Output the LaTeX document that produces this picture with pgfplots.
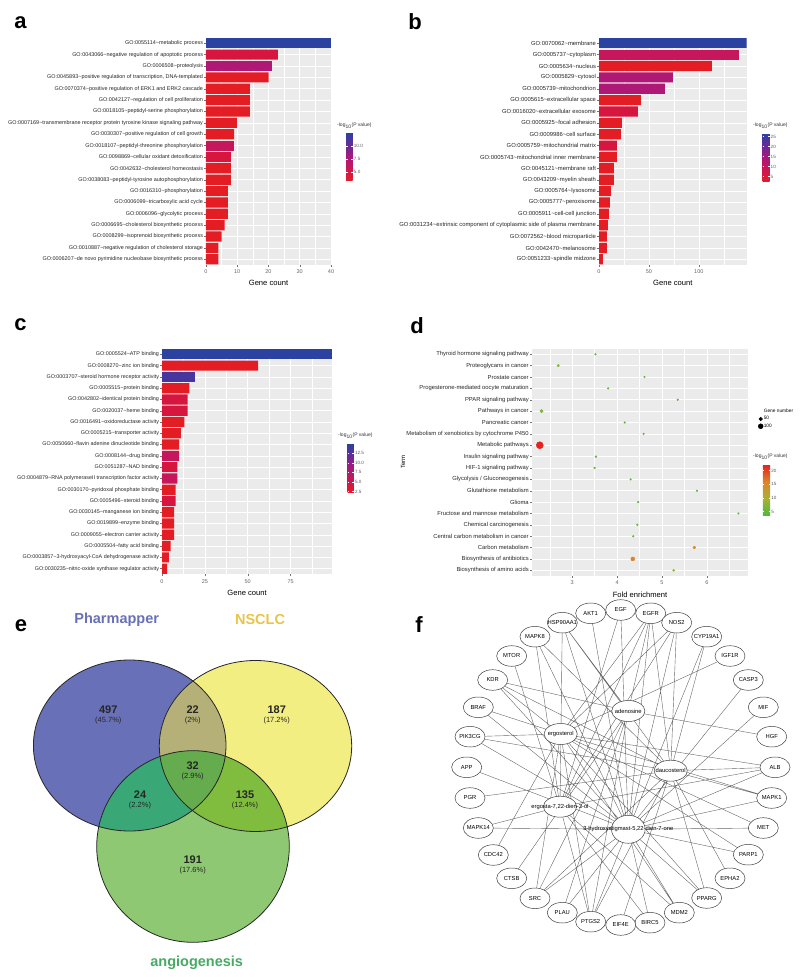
\documentclass[border=0pt]{standalone}
\usepackage{fontspec}
\setmainfont{Liberation Sans}
\usepackage{pgfplots}
\pgfplotsset{compat=1.18}

\definecolor{panelbg}{RGB}{235,235,235}
\definecolor{redbar}{RGB}{228,28,36}
\definecolor{crimbar}{RGB}{214,22,62}
\definecolor{rosebar}{RGB}{198,22,92}
\definecolor{magbar}{RGB}{176,24,118}
\definecolor{purbar}{RGB}{70,54,158}
\definecolor{bluebar}{RGB}{43,66,160}
\definecolor{pcol}{RGB}{104,112,184}
\definecolor{ncol}{RGB}{243,238,130}
\definecolor{gcol}{RGB}{142,200,114}
\definecolor{pncol}{RGB}{181,176,120}
\definecolor{pgcol}{RGB}{58,168,118}
\definecolor{ngcol}{RGB}{128,188,62}
\definecolor{pngcol}{RGB}{100,172,78}
\definecolor{ptitle}{RGB}{104,112,184}
\definecolor{ntitle}{RGB}{232,196,74}
\definecolor{gtitle}{RGB}{70,170,100}

\newcommand{\tl}{\textasciitilde}
\newcommand{\fs}[1]{\fontsize{#1}{#1}\selectfont}

\pgfplotsset{
  /pgf/number format/assume math mode=true,
  colormap={rb}{rgb255=(228,28,36) rgb255=(205,22,82) rgb255=(170,24,122) rgb255=(105,42,152) rgb255=(43,66,160)},
  colormap={gr}{rgb255=(78,186,58) rgb255=(165,178,52) rgb255=(222,132,42) rgb255=(226,36,30)},
  ggpanel/.style={
    scale only axis,
    axis background/.style={fill=panelbg},
    axis line style={draw=none},
    grid=both,
    major grid style={white, line width=0.55pt},
    minor grid style={white, line width=0.3pt},
    tick style={black!55, line width=0.4pt},
    tick align=outside, major tick length=1.8pt, minor tick length=0pt,
    xtick pos=bottom, ytick pos=left,
    y dir=reverse, ymin=0.5, ymax=20.5, ytick={1,...,20},
    yticklabel style={font=\fs{5.6}, text=black!85, inner sep=1pt},
    xticklabel style={font=\fs{5.5}, text=black!60, inner sep=1.5pt, yshift=-1.5pt},
    xlabel style={font=\fs{7.6}, inner sep=0pt, yshift=-5pt},
  },
  gobar/.style={
    ggpanel, xbar, bar width=10.2pt, bar shift=0pt, xmin=0,
    xlabel={Gene count},
    colorbar, colormap name=rb,
    colorbar style={
      at={(parent axis.north east)}, anchor=north west,
      scale only axis, y dir=normal, grid=none,
      axis line style={draw=none},
      tick style={white, line width=0.4pt}, major tick length=1.6pt, tick align=inside,
      yticklabel style={font=\fs{4.6}, text=black!65, inner sep=1pt, yshift=0pt},
    },
  },
}

\begin{document}
\begin{tikzpicture}[x=1pt,y=1pt]
\path[use as bounding box] (0,0) rectangle (800,977);

% ---------------- panel a
\begin{axis}[gobar, at={(206pt,939.4pt)}, anchor=north west, width=125, height=227.4,
  xmax=40, xtick={0,10,20,30,40}, minor xtick={5,15,25,35},
  yticklabel style={font=\fs{5.45}},
  point meta min=3.3, point meta max=12.5,
  colorbar style={xshift=6.7pt, yshift=-95.4pt, width=6.5pt, height=48pt,
    ytick={5,7.5,10}, yticklabels={5.0,7.5,10.0}},
  yticklabels={
    {GO:0055114\tl metabolic process},
    {GO:0043066\tl negative regulation of apoptotic process},
    {GO:0006508\tl proteolysis},
    {GO:0045893\tl positive regulation of transcription, DNA-templated},
    {GO:0070374\tl positive regulation of ERK1 and ERK2 cascade},
    {GO:0042127\tl regulation of cell proliferation},
    {GO:0018105\tl peptidyl-serine phosphorylation},
    {GO:0007169\tl transmembrane receptor protein tyrosine kinase signaling pathway},
    {GO:0030307\tl positive regulation of cell growth},
    {GO:0018107\tl peptidyl-threonine phosphorylation},
    {GO:0098869\tl cellular oxidant detoxification},
    {GO:0042632\tl cholesterol homeostasis},
    {GO:0038083\tl peptidyl-tyrosine autophosphorylation},
    {GO:0016310\tl phosphorylation},
    {GO:0006099\tl tricarboxylic acid cycle},
    {GO:0006096\tl glycolytic process},
    {GO:0006695\tl cholesterol biosynthetic process},
    {GO:0008299\tl isoprenoid biosynthetic process},
    {GO:0010887\tl negative regulation of cholesterol storage},
    {GO:0006207\tl de novo pyrimidine nucleobase biosynthetic process}}]
  \addplot[fill=bluebar, draw=none] coordinates {(40,1)};
  \addplot[fill=crimbar, draw=none] coordinates {(23,2) (8,11)};
  \addplot[fill=magbar, draw=none] coordinates {(21,3)};
  \addplot[fill=rosebar, draw=none] coordinates {(9,10)};
  \addplot[fill=redbar, draw=none] coordinates {
    (20,4) (14,5) (14,6) (14,7) (10,8) (9,9) (8,12) (8,13) (7,14)
    (7,15) (7,16) (6,17) (5,18) (4,19) (4,20)};
\end{axis}

% ---------------- panel b
\begin{axis}[gobar, at={(599pt,939.4pt)}, anchor=north west, width=147.7, height=227.4,
  xmax=148, xtick={0,50,100}, minor xtick={25,75,125},
  yticklabel style={font=\fs{5.85}},
  point meta min=2.4, point meta max=26.6,
  colorbar style={xshift=7.3pt, yshift=-95.7pt, width=7pt, height=48.4pt,
    ytick={5,10,15,20,25}},
  yticklabels={
    {GO:0070062\tl membrane},
    {GO:0005737\tl cytoplasm},
    {GO:0005634\tl nucleus},
    {GO:0005829\tl cytosol},
    {GO:0005739\tl mitochondrion},
    {GO:0005615\tl extracellular space},
    {GO:0016020\tl extracellular exosome},
    {GO:0005925\tl focal adhesion},
    {GO:0009986\tl cell surface},
    {GO:0005759\tl mitochondrial matrix},
    {GO:0005743\tl mitochondrial inner membrane},
    {GO:0045121\tl membrane raft},
    {GO:0043209\tl myelin sheath},
    {GO:0005764\tl lysosome},
    {GO:0005777\tl peroxisome},
    {GO:0005911\tl cell-cell junction},
    {GO:0031234\tl extrinsic component of cytoplasmic side of plasma membrane},
    {GO:0072562\tl blood microparticle},
    {GO:0042470\tl melanosome},
    {GO:0051233\tl spindle midzone}}]
  \addplot[fill=bluebar, draw=none] coordinates {(148,1)};
  \addplot[fill=rosebar, draw=none] coordinates {(140,2)};
  \addplot[fill=magbar, draw=none] coordinates {(74,4) (66,5)};
  \addplot[fill=crimbar, draw=none] coordinates {(39,7) (18,10)};
  \addplot[fill=redbar, draw=none] coordinates {
    (113,3) (42,6) (23,8) (22,9) (18,11) (15,12) (15,13) (12,14)
    (11,15) (10,16) (9,17) (8,18) (8,19) (4,20)};
\end{axis}

% ---------------- panel c
\begin{axis}[gobar, at={(162pt,628.3pt)}, anchor=north west, width=170.3, height=225.6,
  xmax=99.3, xtick={0,25,50,75}, minor xtick={12.5,37.5,62.5,87.5},
  yticklabel style={font=\fs{5.4}},
  point meta min=2.3, point meta max=14.9,
  colorbar style={xshift=6.7pt, yshift=-95.3pt, width=6.3pt, height=48.3pt,
    ytick={2.5,5,7.5,10,12.5}, yticklabels={2.5,5.0,7.5,10.0,12.5}},
  yticklabels={
    {GO:0005524\tl ATP binding},
    {GO:0008270\tl zinc ion binding},
    {GO:0003707\tl steroid hormone receptor activity},
    {GO:0005515\tl protein binding},
    {GO:0042802\tl identical protein binding},
    {GO:0020037\tl heme binding},
    {GO:0016491\tl oxidoreductase activity},
    {GO:0005215\tl transporter activity},
    {GO:0050660\tl flavin adenine dinucleotide binding},
    {GO:0008144\tl drug binding},
    {GO:0051287\tl NAD binding},
    {GO:0004879\tl RNA polymeraseII transcription factor activity},
    {GO:0030170\tl pyridoxal phosphate binding},
    {GO:0005496\tl steroid binding},
    {GO:0030145\tl manganese ion binding},
    {GO:0019899\tl enzyme binding},
    {GO:0009055\tl electron carrier activity},
    {GO:0005504\tl fatty acid binding},
    {GO:0003857\tl 3-hydroxyacyl-CoA dehydrogenase activity},
    {GO:0030235\tl nitric-oxide synthase regulator activity}}]
  \addplot[fill=bluebar, draw=none] coordinates {(99.3,1)};
  \addplot[fill=purbar, draw=none] coordinates {(19,3)};
  \addplot[fill=rosebar, draw=none] coordinates {(10,10) (9,12)};
  \addplot[fill=crimbar, draw=none] coordinates {(15,5) (15,6) (9,11) (8,14)};
  \addplot[fill=redbar, draw=none] coordinates {
    (56,2) (16,4) (13,7) (11,8) (10,9) (8,13) (7,15) (7,16) (7,17)
    (5,18) (4,19) (3,20)};
\end{axis}

% ---------------- panel d
\begin{axis}[ggpanel, at={(531.7pt,628.4pt)}, anchor=north west, width=216.6, height=227.4,
  xmin=2.1, xmax=6.92, xtick={3,4,5,6}, minor xtick={2.5,3.5,4.5,5.5,6.5},
  yticklabel style={font=\fs{5.85}},
  xlabel={Fold enrichment}, ylabel={Term},
  ylabel style={font=\fs{6}, inner sep=0pt},
  colorbar, colormap name=gr, point meta min=3.5, point meta max=22,
  colorbar style={
    at={(parent axis.north east)}, anchor=north west,
    xshift=6pt, yshift=-116.4pt, scale only axis, width=7.4pt, height=50.7pt,
    y dir=normal, grid=none, axis line style={draw=none},
    tick style={white, line width=0.4pt}, major tick length=1.6pt, tick align=inside,
    ytick={5,10,15,20},
    yticklabel style={font=\fs{4.6}, text=black!65, inner sep=1pt}},
  legend style={at={(axis description cs:1.017,0.737)}, anchor=north west,
    draw=none, fill=none, font=\fs{4.8}, row sep=1.2pt, inner sep=0pt,
    nodes={inner sep=0.6pt}},
  legend cell align=left,
  yticklabels={
    Thyroid hormone signaling pathway,
    Proteoglycans in cancer,
    Prostate cancer,
    Progesterone-mediated oocyte maturation,
    PPAR signaling pathway,
    Pathways in cancer,
    Pancreatic cancer,
    Metabolism of xenobiotics by cytochrome P450,
    Metabolic pathways,
    Insulin signaling pathway,
    HIF-1 signaling pathway,
    Glycolysis / Gluconeogenesis,
    Glutathione metabolism,
    Glioma,
    Fructose and mannose metabolism,
    Chemical carcinogenesis,
    Central carbon metabolism in cancer,
    Carbon metabolism,
    Biosynthesis of antibiotics,
    Biosynthesis of amino acids}]
  \addplot[scatter, only marks, mark=*, forget plot,
    point meta=explicit,
    scatter/use mapped color={draw=mapped color, fill=mapped color},
    visualization depends on={0.25*sqrt(\thisrow{n}) \as \rad},
    scatter/@pre marker code/.append style={/tikz/mark size=\rad}]
    table[x=fe, y=i, meta=p] {
    i  fe    p     n
    1  3.52  5.0   13
    2  2.69  7.5   23
    3  4.61  5.5   13
    4  3.80  5.0   13
    5  5.35  4.0   11
    6  2.32  7.0   46
    7  4.17  4.2   12
    8  4.59  4.0   12
    9  2.28  22.0  200
    10 3.53  5.0   14
    11 3.50  5.0   13
    12 4.30  5.5   12
    13 5.78  4.2   11
    14 4.47  4.8   12
    15 6.70  3.8   10
    16 4.45  5.0   13
    17 4.36  4.8   12
    18 5.72  15.0  36
    19 4.35  16.0  64
    20 5.26  7.5   18
  };
  \addlegendimage{empty legend}\addlegendentry{Gene number}
  \addlegendimage{only marks, mark=*, black, mark size=1.77pt}\addlegendentry{50}
  \addlegendimage{only marks, mark=*, black, mark size=2.5pt}\addlegendentry{100}
\end{axis}

% ---------------- panel e (Venn)
\begin{axis}[at={(0pt,0pt)}, anchor=south west, scale only axis, width=400, height=377,
  xmin=0, xmax=400, ymin=600, ymax=977, y dir=reverse, hide axis, clip=false]
  \fill[pcol] (axis cs:129.7,745.5) ellipse [x radius=96.3pt, y radius=85.5pt];
  \fill[ncol] (axis cs:255.5,746) ellipse [x radius=96.2pt, y radius=85.5pt];
  \fill[gcol] (axis cs:193,846.5) ellipse [x radius=96.3pt, y radius=95.8pt];
  \begin{scope}
    \clip (axis cs:129.7,745.5) ellipse [x radius=96.3pt, y radius=85.5pt];
    \fill[pncol] (axis cs:255.5,746) ellipse [x radius=96.2pt, y radius=85.5pt];
    \fill[pgcol] (axis cs:193,846.5) ellipse [x radius=96.3pt, y radius=95.8pt];
  \end{scope}
  \begin{scope}
    \clip (axis cs:255.5,746) ellipse [x radius=96.2pt, y radius=85.5pt];
    \fill[ngcol] (axis cs:193,846.5) ellipse [x radius=96.3pt, y radius=95.8pt];
  \end{scope}
  \begin{scope}
    \clip (axis cs:129.7,745.5) ellipse [x radius=96.3pt, y radius=85.5pt];
    \clip (axis cs:255.5,746) ellipse [x radius=96.2pt, y radius=85.5pt];
    \fill[pngcol] (axis cs:193,846.5) ellipse [x radius=96.3pt, y radius=95.8pt];
  \end{scope}
  \draw[black!85, line width=0.8pt] (axis cs:129.7,745.5) ellipse [x radius=96.3pt, y radius=85.5pt];
  \draw[black!85, line width=0.8pt] (axis cs:255.5,746) ellipse [x radius=96.2pt, y radius=85.5pt];
  \draw[black!85, line width=0.8pt] (axis cs:193,846.5) ellipse [x radius=96.3pt, y radius=95.8pt];
  \node[font=\bfseries\fs{14.5}, text=ptitle] at (axis cs:116.7,620) {Pharmapper};
  \node[font=\bfseries\fs{14.5}, text=ntitle] at (axis cs:260,620) {NSCLC};
  \node[font=\bfseries\fs{14.5}, text=gtitle] at (axis cs:196.7,963) {angiogenesis};
  \begin{scope}[every node/.style={text=black!85}]
    \node[font=\bfseries\fs{11}] at (axis cs:108.3,710) {497};
    \node[font=\fs{7.5}] at (axis cs:108.3,721) {(45.7\%)};
    \node[font=\bfseries\fs{11}] at (axis cs:192.7,710) {22};
    \node[font=\fs{7.5}] at (axis cs:192.7,721) {(2\%)};
    \node[font=\bfseries\fs{11}] at (axis cs:276.7,710) {187};
    \node[font=\fs{7.5}] at (axis cs:276.7,721) {(17.2\%)};
    \node[font=\bfseries\fs{11}] at (axis cs:192.7,765.5) {32};
    \node[font=\fs{7.5}] at (axis cs:192.7,776.5) {(2.9\%)};
    \node[font=\bfseries\fs{11}] at (axis cs:140,795) {24};
    \node[font=\fs{7.5}] at (axis cs:140,806) {(2.2\%)};
    \node[font=\bfseries\fs{11}] at (axis cs:245,795) {135};
    \node[font=\fs{7.5}] at (axis cs:245,806) {(12.4\%)};
    \node[font=\bfseries\fs{11}] at (axis cs:192.7,860) {191};
    \node[font=\fs{7.5}] at (axis cs:192.7,871) {(17.6\%)};
  \end{scope}
\end{axis}

% ---------------- panel f (network)
\begin{axis}[at={(400pt,0pt)}, anchor=south west, scale only axis, width=400, height=377,
  xmin=400, xmax=800, ymin=600, ymax=977, y dir=reverse, hide axis, clip=false]
  \addplot[black!60, line width=0.4pt, mark=none, unbounded coords=jump] coordinates {
    (590.7,613.3) (628.3,829.3) (nan,nan)
    (620.7,610) (560,806.7) (nan,nan)
    (620.7,610) (628.3,829.3) (nan,nan)
    (650.7,613.3) (560.7,734) (nan,nan)
    (650.7,613.3) (560,806.7) (nan,nan)
    (650.7,613.3) (628.3,829.3) (nan,nan)
    (650.7,613.3) (670.7,770.7) (nan,nan)
    (650.7,613.3) (628.3,711) (nan,nan)
    (676.7,622.7) (560.7,734) (nan,nan)
    (676.7,622.7) (628.3,829.3) (nan,nan)
    (676.7,622.7) (670.7,770.7) (nan,nan)
    (676.7,622.7) (560,806.7) (nan,nan)
    (706.7,636.7) (628.3,829.3) (nan,nan)
    (706.7,636.7) (670.7,770.7) (nan,nan)
    (730,656) (560.7,734) (nan,nan)
    (748.3,680) (628.3,829.3) (nan,nan)
    (763.3,707.3) (628.3,829.3) (nan,nan)
    (771.7,736.7) (628.3,711) (nan,nan)
    (775,767.3) (560.7,734) (nan,nan)
    (775,767.3) (670.7,770.7) (nan,nan)
    (775,767.3) (628.3,829.3) (nan,nan)
    (775,767.3) (560,806.7) (nan,nan)
    (771.7,798) (560.7,734) (nan,nan)
    (771.7,798) (670.7,770.7) (nan,nan)
    (771.7,798) (628.3,829.3) (nan,nan)
    (763.3,828) (628.3,829.3) (nan,nan)
    (763.3,828) (560.7,734) (nan,nan)
    (748.3,854.7) (628.3,829.3) (nan,nan)
    (748.3,854.7) (560.7,734) (nan,nan)
    (730,878.3) (670.7,770.7) (nan,nan)
    (706.7,898) (670.7,770.7) (nan,nan)
    (706.7,898) (560.7,734) (nan,nan)
    (706.7,898) (628.3,829.3) (nan,nan)
    (679.3,912.7) (560.7,734) (nan,nan)
    (679.3,912.7) (560,806.7) (nan,nan)
    (679.3,912.7) (628.3,829.3) (nan,nan)
    (650,922.7) (560,806.7) (nan,nan)
    (650,922.7) (628.3,829.3) (nan,nan)
    (620.7,925) (670.7,770.7) (nan,nan)
    (590.7,921.7) (560.7,734) (nan,nan)
    (590.7,921.7) (560,806.7) (nan,nan)
    (590.7,921.7) (670.7,770.7) (nan,nan)
    (590.7,921.7) (628.3,711) (nan,nan)
    (590.7,921.7) (628.3,829.3) (nan,nan)
    (562.3,912.7) (628.3,711) (nan,nan)
    (562.3,912.7) (628.3,829.3) (nan,nan)
    (535,898.3) (560.7,734) (nan,nan)
    (535,898.3) (628.3,711) (nan,nan)
    (535,898.3) (670.7,770.7) (nan,nan)
    (535,898.3) (628.3,829.3) (nan,nan)
    (511.7,878.3) (628.3,711) (nan,nan)
    (493.3,855) (560.7,734) (nan,nan)
    (478.3,828) (560,806.7) (nan,nan)
    (478.3,828) (628.3,829.3) (nan,nan)
    (470,798) (670.7,770.7) (nan,nan)
    (466.7,767.3) (628.3,829.3) (nan,nan)
    (470,736.7) (560.7,734) (nan,nan)
    (470,736.7) (670.7,770.7) (nan,nan)
    (470,736.7) (628.3,829.3) (nan,nan)
    (478.3,707.3) (560.7,734) (nan,nan)
    (478.3,707.3) (628.3,829.3) (nan,nan)
    (492.7,680) (560.7,734) (nan,nan)
    (492.7,680) (670.7,770.7) (nan,nan)
    (492.7,680) (628.3,829.3) (nan,nan)
    (492.7,680) (628.3,711) (nan,nan)
    (511.7,656) (560,806.7) (nan,nan)
    (535,636.7) (628.3,829.3) (nan,nan)
    (535,636.7) (670.7,770.7) (nan,nan)
    (535,636.7) (560,806.7) (nan,nan)
    (562.3,622.7) (560,806.7) (nan,nan)
    (562.3,622.7) (628.3,711) (nan,nan)
    (562.3,622.7) (628.3,829.3) (nan,nan)
    (562.3,622.7) (670.7,770.7)
  };
  \addplot[only marks, mark=*, mark size=10.3pt,
    mark options={xscale=1.46, fill=white, draw=black!75, line width=0.5pt},
    point meta=explicit symbolic, nodes near coords,
    every node near coord/.style={anchor=center, font=\fs{5.8}, text=black}]
    coordinates {
    (590.7,613.3) [AKT1] (620.7,610) [EGF] (650.7,613.3) [EGFR]
    (676.7,622.7) [NOS2] (706.7,636.7) [CYP19A1] (730,656) [IGF1R]
    (748.3,680) [CASP3] (763.3,707.3) [MIF] (771.7,736.7) [HGF]
    (775,767.3) [ALB] (771.7,798) [MAPK1] (763.3,828) [MET]
    (748.3,854.7) [PARP1] (730,878.3) [EPHA2] (706.7,898) [PPARG]
    (679.3,912.7) [MDM2] (650,922.7) [BIRC5] (620.7,925) [EIF4E]
    (590.7,921.7) [PTGS2] (562.3,912.7) [PLAU] (535,898.3) [SRC]
    (511.7,878.3) [CTSB] (493.3,855) [CDC42] (478.3,828) [MAPK14]
    (470,798) [PGR] (466.7,767.3) [APP] (470,736.7) [PIK3CG]
    (478.3,707.3) [BRAF] (492.7,680) [KDR] (511.7,656) [MTOR]
    (535,636.7) [MAPK8] (562.3,622.7) [HSP90AA1]
  };
  \addplot[only marks, mark=*, mark size=10.5pt,
    mark options={xscale=1.58, fill=white, draw=black!75, line width=0.5pt},
    point meta=explicit symbolic, nodes near coords,
    every node near coord/.style={anchor=center, font=\fs{5.8}, text=black}]
    coordinates {
    (628.3,711) [adenosine] (560.7,734) [ergosterol]
    (670.7,770.7) [daucosterol] (560,806.7) [{ergosta-7,22-dien-3-ol}]
  };
  \addplot[only marks, mark=*, mark size=14pt,
    mark options={xscale=1.2, fill=white, draw=black!75, line width=0.5pt},
    point meta=explicit symbolic, nodes near coords,
    every node near coord/.style={anchor=center, font=\fs{5.8}, text=black}]
    coordinates {(628.3,829.3) [{3-hydroxystigmast-5,22-dien-7-one}]};
\end{axis}

% ---------------- panel letters and legend titles
\begin{scope}[every node/.style={font=\bfseries\fs{22}}]
  \node at (20.5,954) {a};
  \node at (415,955) {b};
  \node at (20.5,652) {c};
  \node at (417,651) {d};
  \node at (21,351) {e};
  \node at (419,352) {f};
\end{scope}
\begin{scope}[every node/.style={font=\fs{5}, text=black!80, anchor=west, inner sep=0pt}]
  \node at (337,851) {-log\textsubscript{10}(P value)};
  \node at (753,851) {-log\textsubscript{10}(P value)};
  \node at (338,541) {-log\textsubscript{10}(P value)};
  \node at (753,520) {-log\textsubscript{10}(P value)};
\end{scope}
\end{tikzpicture}
\end{document}
